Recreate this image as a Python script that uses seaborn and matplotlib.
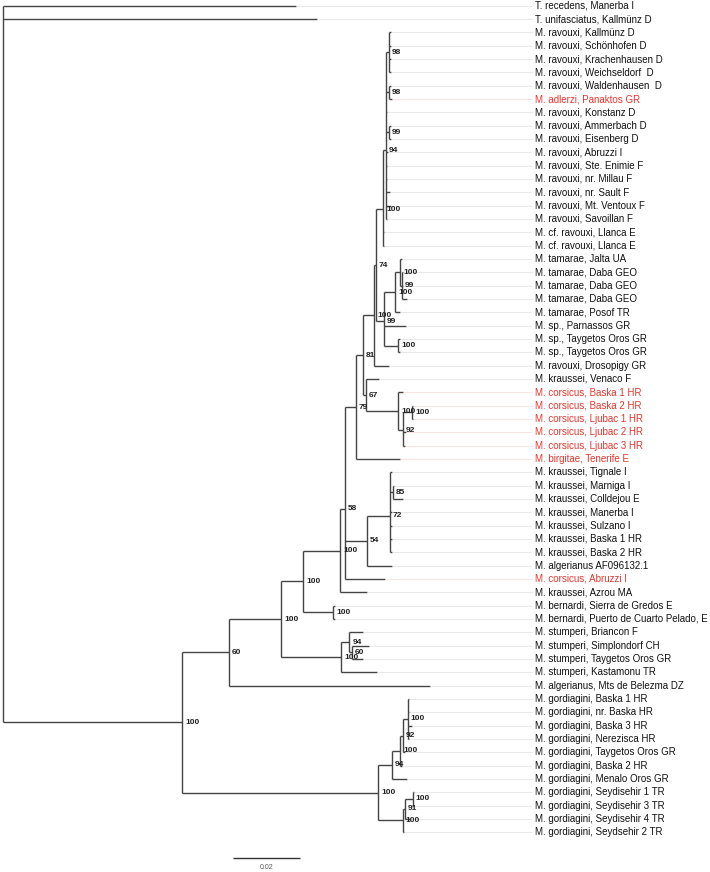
import matplotlib
matplotlib.use("Agg")
import matplotlib.pyplot as plt
import seaborn as sns
import numpy as np

# ── Data ──────────────────────────────────────────────────────────────────────
# tip labels, top -> bottom
LEAVES = [
    "T. recedens, Manerba I", "T. unifasciatus, Kallmünz D",
    "M. ravouxi, Kallmünz D", "M. ravouxi, Schönhofen D", "M. ravouxi, Krachenhausen D",
    "M. ravouxi, Weichseldorf  D", "M. ravouxi, Waldenhausen  D", "M. adlerzi, Panaktos GR",
    "M. ravouxi, Konstanz D", "M. ravouxi, Ammerbach D", "M. ravouxi, Eisenberg D",
    "M. ravouxi, Abruzzi I", "M. ravouxi, Ste. Enimie F", "M. ravouxi, nr. Millau F",
    "M. ravouxi, nr. Sault F", "M. ravouxi, Mt. Ventoux F", "M. ravouxi, Savoillan F",
    "M. cf. ravouxi, Llanca E", "M. cf. ravouxi, Llanca E",
    "M. tamarae, Jalta UA", "M. tamarae, Daba GEO", "M. tamarae, Daba GEO",
    "M. tamarae, Daba GEO", "M. tamarae, Posof TR",
    "M. sp., Parnassos GR", "M. sp., Taygetos Oros GR", "M. sp., Taygetos Oros GR",
    "M. ravouxi, Drosopigy GR", "M. kraussei, Venaco F",
    "M. corsicus, Baska 1 HR", "M. corsicus, Baska 2 HR", "M. corsicus, Ljubac 1 HR",
    "M. corsicus, Ljubac 2 HR", "M. corsicus, Ljubac 3 HR", "M. birgitae, Tenerife E",
    "M. kraussei, Tignale I", "M. kraussei, Marniga I", "M. kraussei, Colldejou E",
    "M. kraussei, Manerba I", "M. kraussei, Sulzano I", "M. kraussei, Baska 1 HR",
    "M. kraussei, Baska 2 HR", "M. algerianus AF096132.1", "M. corsicus, Abruzzi I",
    "M. kraussei, Azrou MA", "M. bernardi, Sierra de Gredos E",
    "M. bernardi, Puerto de Cuarto Pelado, E",
    "M. stumperi, Briancon F", "M. stumperi, Simplondorf CH",
    "M. stumperi, Taygetos Oros GR", "M. stumperi, Kastamonu TR",
    "M. algerianus, Mts de Belezma DZ",
    "M. gordiagini, Baska 1 HR", "M. gordiagini, nr. Baska HR", "M. gordiagini, Baska 3 HR",
    "M. gordiagini, Nerezisca HR", "M. gordiagini, Taygetos Oros GR",
    "M. gordiagini, Baska 2 HR", "M. gordiagini, Menalo Oros GR",
    "M. gordiagini, Seydisehir 1 TR", "M. gordiagini, Seydisehir 3 TR",
    "M. gordiagini, Seydisehir 4 TR", "M. gordiagini, Seydsehir 2 TR",
]
RED_LEAVES = [7, 29, 30, 31, 32, 33, 34, 43]

LEAF_PARENT = [
    "root", "root",
    "R98a", "R98a", "R98a", "R98a", "R98b", "R98b",
    "R94", "R99", "R99", "R94", "R94", "R94", "R94", "R94", "R94",
    "RV", "RV",
    "Ta", "Tb", "Tb", "Tb", "Troot", "N99", "Tay", "Tay",
    "N100b", "N67",
    "C100", "C100b", "C100b", "C92", "C92", "N79",
    "K72", "K85", "K85", "K72", "K72", "K72", "K72", "N54", "N58", "N340",
    "B100", "B100",
    "S94", "S60", "S60", "S100", "N60",
    "GZ", "GZ", "GZ", "GZ", "GY", "GX", "G94",
    "S100a", "S100a", "N91", "SR",
]
# distance of each tip from the root (substitutions/site)
LEAF_DEPTH = [
    0.0879, 0.0942,
    0.1164, 0.1164, 0.1164, 0.1164, 0.1164, 0.1167,
    0.1151, 0.1164, 0.1164, 0.1155, 0.1152, 0.1152, 0.1160, 0.1164, 0.1152,
    0.1143, 0.1143,
    0.1197, 0.1200, 0.1200, 0.1212, 0.1191, 0.1209, 0.1191, 0.1191,
    0.1158, 0.1128,
    0.1199, 0.1230, 0.1230, 0.1209, 0.1206, 0.1191,
    0.1167, 0.1172, 0.1200, 0.1167, 0.1167, 0.1167, 0.1167, 0.1166, 0.1146, 0.1091,
    0.0996, 0.0996,
    0.1081, 0.1099, 0.1079, 0.1121, 0.1281,
    0.1218, 0.1218, 0.1226, 0.1217, 0.1206, 0.1197, 0.1213,
    0.1233, 0.1233, 0.1221, 0.1203,
]

# internal nodes
NODE_IDS = ["root", "N182", "N60", "NM", "N303", "N340", "N58", "N79", "N81",
            "N100b", "N74", "RV", "R94", "R98a", "R98b", "R99", "N99", "Troot",
            "Ta", "Tb", "Tay", "N67", "C100", "C92", "C100b", "N54", "K72", "K85",
            "B100", "S100", "S94", "S60", "G100", "G94", "GX", "GY", "GZ",
            "SR", "N91", "S100a"]
NODE_PARENT = [None, "root", "N182", "N60", "NM", "N303", "N340", "N58", "N79",
               "N81", "N100b", "N74", "RV", "R94", "R94", "R94", "N74", "N99",
               "Troot", "Ta", "N99", "N81", "N67", "C100", "C92", "N58", "N54", "K72",
               "N303", "NM", "S100", "S94", "N182", "G100", "G94", "GX", "GY",
               "G100", "SR", "N91"]
NODE_DEPTH = [0.0, 0.0537, 0.0678, 0.0834, 0.0900, 0.1011, 0.1026, 0.1059, 0.1080,
              0.1113, 0.1119, 0.1140, 0.1148, 0.1158, 0.1158, 0.1158, 0.1143, 0.1176,
              0.1191, 0.1197, 0.1185, 0.1089, 0.1185, 0.1200, 0.1227, 0.1091, 0.1161, 0.1169,
              0.0991, 0.1014, 0.1039, 0.1047, 0.1125, 0.1166, 0.1191, 0.1200, 0.1214,
              0.1199, 0.1206, 0.1229]
NODE_SUPPORT = ["", "100", "60", "100", "100", "100", "58", "79", "81",
                "100", "74", "100", "94", "98", "98", "99", "99", "100",
                "100", "99", "100", "67", "100", "92", "100", "54", "72", "85",
                "100", "100", "94", "60", "100", "94", "100", "92", "100",
                "100", "91", "100"]

SCALE_LEN = 0.02

# ── Layout ────────────────────────────────────────────────────────────────────
BRANCH = "#444444"
LEADER = "#c9c9c9"
RED = "#e8352e"
PX = 0.0003          # substitution units per pixel
ROW_PX = 13.33       # pixel spacing of tips
LABEL_X = 0.1595
LEADER_END = 0.1587

children = {n: [] for n in NODE_IDS}
for i, p in enumerate(LEAF_PARENT):
    children[p].append(("leaf", i))
for n, p in zip(NODE_IDS, NODE_PARENT):
    if p is not None:
        children[p].append(("node", n))

depth = dict(zip(NODE_IDS, NODE_DEPTH))
ypos = {}


def node_y(n):
    if n in ypos:
        return ypos[n]
    ys = [c if k == "leaf" else node_y(c) for k, c in children[n]]
    ypos[n] = float(np.mean(ys))
    return ypos[n]


for n in NODE_IDS:
    node_y(n)

sns.set_theme(style="white")
plt.rcParams["font.family"] = ["Liberation Sans", "DejaVu Sans"]

fig = plt.figure(figsize=(7.1, 8.72), dpi=100)
ax = fig.add_axes([0, 0, 1, 1])

# branches
for n in NODE_IDS:
    kids = children[n]
    ys = [c if k == "leaf" else ypos[c] for k, c in kids]
    ax.vlines(depth[n], min(ys), max(ys), color=BRANCH, lw=1.0)
    for k, c in kids:
        if k == "leaf":
            ax.hlines(c, depth[n], LEAF_DEPTH[c], color=BRANCH, lw=1.0)
        else:
            ax.hlines(ypos[c], depth[n], depth[c], color=BRANCH, lw=1.0)

# leaders and tip labels
for i, name in enumerate(LEAVES):
    red = i in RED_LEAVES
    ax.hlines(i, LEAF_DEPTH[i], LEADER_END, color="#f3c0bd" if red else LEADER,
              lw=0.6, linestyles=(0, (1.2, 1.2)))
    ax.text(LABEL_X, i, name, fontsize=7.0, va="center", ha="left",
            color=RED if red else "#111111")

# bootstrap support
for n, s in zip(NODE_IDS, NODE_SUPPORT):
    if s:
        ax.text(depth[n] + 3 * PX, ypos[n], s, fontsize=6, fontweight="bold",
                va="center", ha="left", color="#222222")

# scale bar
x0 = 230 * PX
ax.hlines(63.96, x0, x0 + SCALE_LEN, color="#333333", lw=1.0)
ax.text(x0 + SCALE_LEN / 2, 64.65, f"{SCALE_LEN:g}", fontsize=5, ha="center",
        va="center", color="#555555")

ax.set_xlim(-3 * PX, 707 * PX)
ax.set_ylim((872 - 5.7) / ROW_PX, -5.7 / ROW_PX)
ax.axis("off")
sns.despine(ax=ax, left=True, bottom=True)

fig.savefig("out.png", dpi=100)
plt.close(fig)
